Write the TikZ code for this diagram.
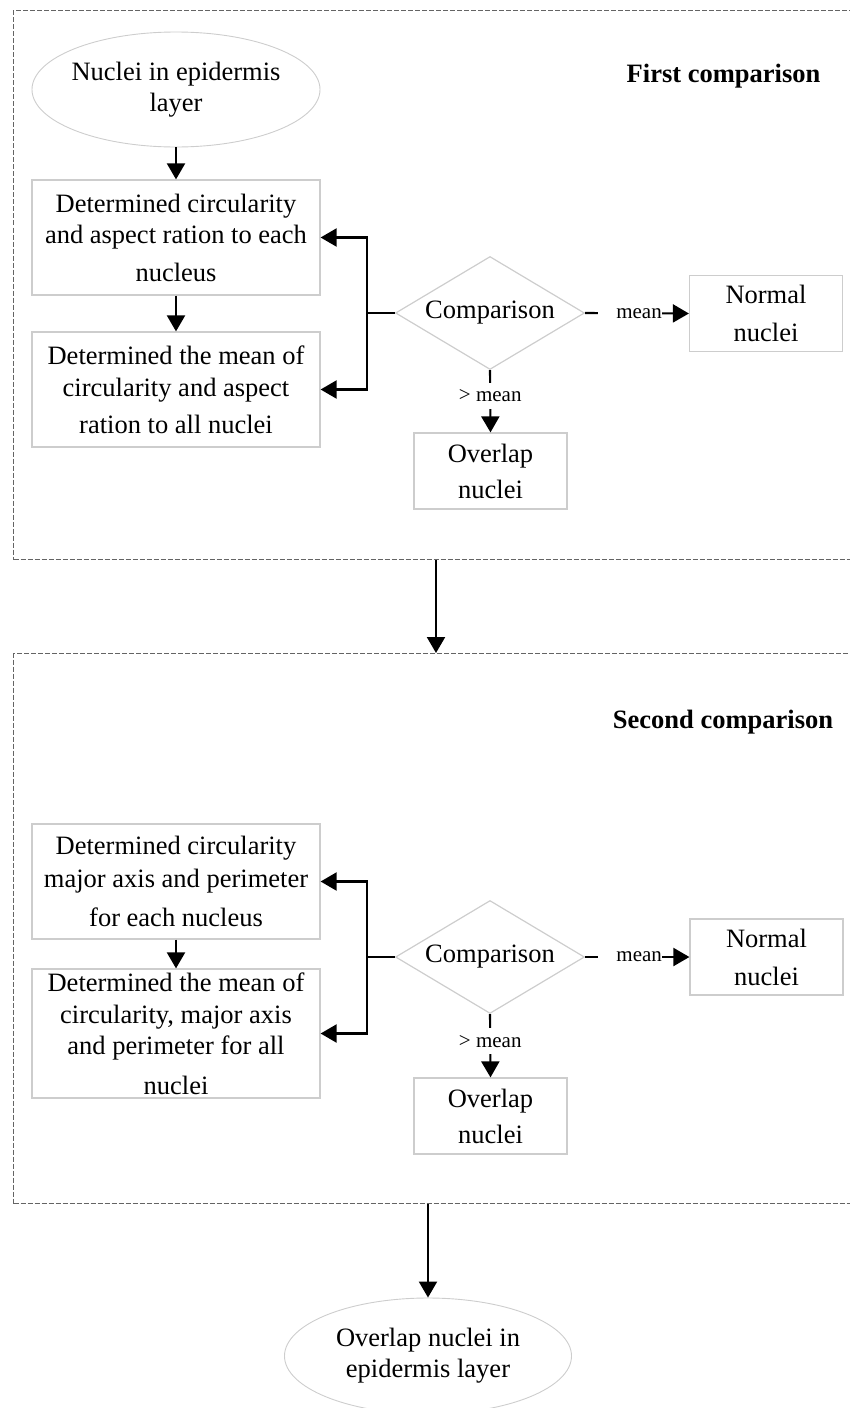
\documentclass[tikz,border=0pt]{standalone}
\usepackage{fontspec}
\setmainfont{Liberation Serif}
\usetikzlibrary{shapes.geometric, arrows.meta}

\definecolor{boxgray}{RGB}{205,205,205}
\definecolor{framegray}{RGB}{100,100,100}

\begin{document}
\begin{tikzpicture}[x=1pt, y=-1pt,
  every node/.style={font=\fontsize{26.5}{31}\selectfont},
  stepbox/.style={draw=boxgray, line width=1.2pt, minimum width=288pt,
    minimum height=115pt, inner sep=0pt, align=center},
  resultbox/.style={draw=boxgray, line width=1.2pt, minimum width=153pt,
    minimum height=76pt, inner sep=0pt, align=center},
  decision/.style={diamond, draw=boxgray, line width=1.2pt, inner sep=0pt,
    shape aspect=1.67, minimum width=189pt, minimum height=113pt},
  terminal/.style={ellipse, draw=boxgray, line width=0.9pt, inner sep=0pt,
    minimum width=288pt, minimum height=115pt},
  frame/.style={draw=framegray, line width=1pt, dash pattern=on 5pt off 2pt,
    inner sep=0pt, anchor=north west},
  title/.style={font=\bfseries\fontsize{26.5}{31}\selectfont, anchor=base},
  lbl/.style={font=\fontsize{21}{24}\selectfont, fill=white, inner sep=0pt},
  arr/.style={line width=2.1pt, -{Triangle[length=16pt,width=18pt]}}
]
\useasboundingbox (0,0) rectangle (850,1408);
\clip (0,0) rectangle (850,1408);

% dashed section frames
\node[frame, minimum width=870pt, minimum height=549pt] (frameA) at (13,10) {};
\node[frame, minimum width=870pt, minimum height=550pt] (frameB) at (13,653) {};

\node[title] (titleA) at (723.5,82) {First comparison};
\node[title] (titleB) at (723,728) {Second comparison};

% first comparison
\node[terminal] (startE) at (176,89.5) {};
\node[align=center] (startT) at (startE) {Nuclei in epidermis\\layer};

\node[stepbox] (box1) at (176,237.5) {Determined circularity\\and aspect ration to each\\[7pt]nucleus};
\node[stepbox] (box2) at (176,389.5) {Determined the mean of\\[1pt]circularity and aspect\\[6pt]ration to all nuclei};

\node[decision] (cmpA) at (490,313) {Comparison};
\node[resultbox] (normA) at (766,313.5) {Normal\\[7pt]nuclei};
\node[resultbox] (overA) at (490.5,471) {Overlap\\[5pt]nuclei};

\draw[arr] (startE) -- (box1);
\draw[arr] (box1) -- (box2);
\draw[arr] (cmpA.west) -- ++(-28,0) |- (box1.east);
\draw[arr] (cmpA.west) -- ++(-28,0) |- (box2.east);
\draw[arr] (cmpA.east) -- (normA.west)
  node[lbl, pos=0.43, text width=64pt, align=right, minimum height=24pt] {mean};
\draw[arr] (cmpA.south) -- (overA.north)
  node[lbl, pos=0.41, minimum height=26pt] {> mean};

% link between the two sections
\coordinate (linkA) at (436,0);
\draw[arr] (frameA.south -| linkA) -- (frameB.north -| linkA);

% second comparison
\node[stepbox] (box3) at (176,881.5) {Determined circularity\\[2pt]major axis and perimeter\\[8pt]for each nucleus};
\node[stepbox, minimum height=129pt] (box4) at (176,1033.5) {Determined the mean of\\[1pt]circularity, major axis\\and perimeter for all\\[9pt]nuclei};

\node[decision] (cmpB) at (490,957) {Comparison};
\node[resultbox] (normB) at (766.5,957) {Normal\\[7pt]nuclei};
\node[resultbox] (overB) at (490.5,1116) {Overlap\\[5pt]nuclei};

\draw[arr] (box3) -- (box4);
\draw[arr] (cmpB.west) -- ++(-28,0) |- (box3.east);
\draw[arr] (cmpB.west) -- ++(-28,0) |- (box4.east);
\draw[arr] (cmpB.east) -- (normB.west)
  node[lbl, pos=0.43, text width=64pt, align=right, minimum height=24pt] {mean};
\draw[arr] (cmpB.south) -- (overB.north)
  node[lbl, pos=0.43, minimum height=26pt] {> mean};

% final result
\node[terminal, minimum width=287pt, minimum height=116pt] (endE) at (428,1356) {};
\node[align=center] (endT) at (endE) {Overlap nuclei in\\epidermis layer};
\draw[arr] (frameB.south -| endE) -- (endE.north);
\end{tikzpicture}
\end{document}
